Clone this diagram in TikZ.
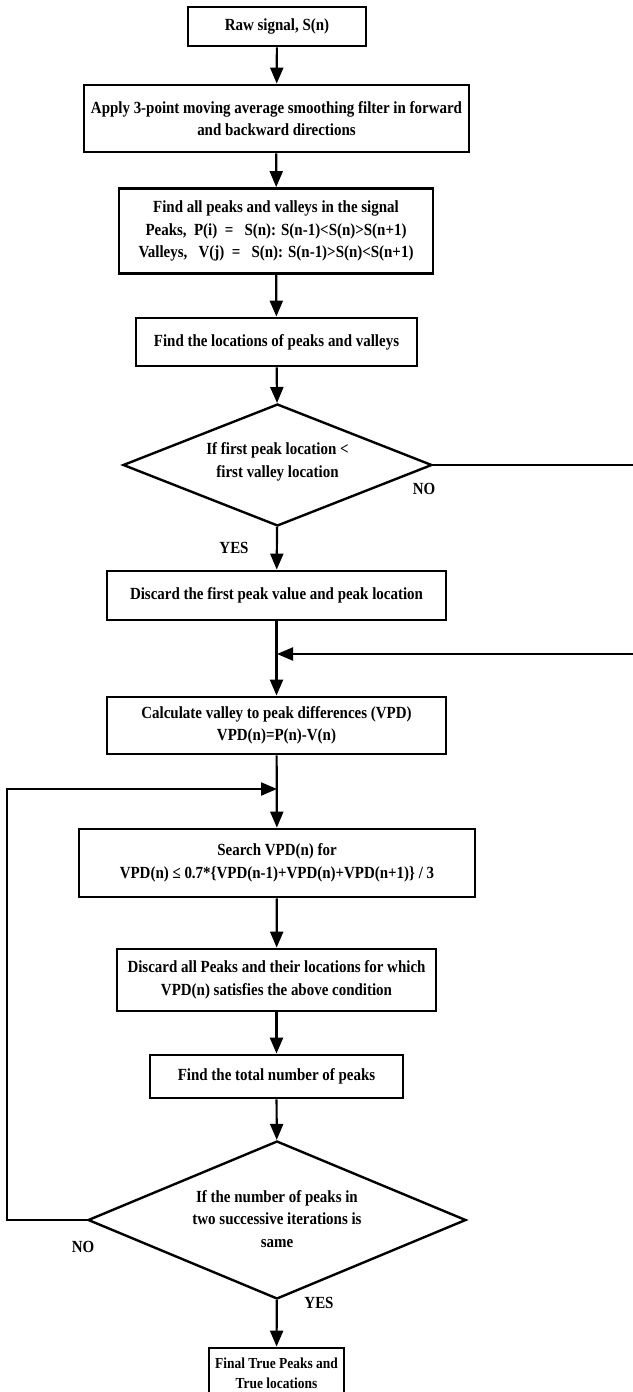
\documentclass[tikz,border=0pt]{standalone}
\usepackage{fontspec}
\setmainfont{Liberation Serif}[FakeStretch=0.88]
\usetikzlibrary{shapes.geometric,arrows.meta}
\begin{document}
\begin{tikzpicture}[x=1pt,y=-1pt,
  every node/.style={font=\fontsize{17}{22.5}\selectfont\bfseries, align=center, inner sep=0pt},
  box/.style={draw, line width=2.8pt, rectangle},
  dia/.style={draw, line width=2.4pt, diamond},
  lbl/.style={},
  arr/.style={line width=2.2pt, -{Triangle[length=16pt,width=13pt]}}]
\useasboundingbox (0,0) rectangle (632,1392);
\node[box, minimum width=178pt, minimum height=39pt] (b1) at (277,26.5) {Raw signal, S(n)};
\node[box, minimum width=385pt, minimum height=67pt] (b2) at (276.5,118.5) {Apply 3-point moving average smoothing filter in forward\\and backward directions};
\node[box, minimum width=314pt, minimum height=85pt] (b3) at (276,231) {\raisebox{0pt}{Find all peaks and valleys in the signal}\\Peaks,\ \ P(i)\ \ =\ \ \ S(n): S(n-1)<S(n)>S(n+1)\\Valleys,\ \ \ V(j)\ \ =\ \ \ S(n): S(n-1)>S(n)<S(n+1)};
\node[box, minimum width=281pt, minimum height=48pt] (b4) at (276.5,342) {Find the locations of peaks and valleys};
\node[dia, minimum width=309pt, minimum height=122pt, aspect=2.53] (d1) at (277.5,465) {};
\node at (277.5,462) {If first peak location <\\first valley location};
\node[lbl] (no1) at (424,489) {NO};
\node[lbl] (yes1) at (234,548) {YES};
\node[box, minimum width=339pt, minimum height=49pt] (b5) at (276.5,595.5) {Discard the first peak value and peak location};
\node[box, minimum width=339pt, minimum height=57pt] (b6) at (276.5,725.5) {Calculate valley to peak differences (VPD)\\VPD(n)=P(n)-V(n)};
\node[box, minimum width=396pt, minimum height=68pt] (b7) at (277,863) {Search VPD(n) for\\VPD(n) ≤ 0.7*\{VPD(n-1)+VPD(n)+VPD(n+1)\} / 3};
\node[box, minimum width=319pt, minimum height=62pt] (b8) at (276.5,980) {Discard all Peaks and their locations for which\\VPD(n) satisfies the above condition};
\node[box, minimum width=253pt, minimum height=43pt] (b9) at (276.5,1076.5) {Find the total number of peaks};
\node[dia, minimum width=378pt, minimum height=158pt, aspect=2.39] (d2) at (277,1220) {};
\node at (277,1219) {If the number of peaks in\\two successive iterations is\\same};
\node[lbl] (no2) at (83,1247) {NO};
\node[lbl] (yes2) at (319,1303) {YES};
\node[box, minimum width=135pt, minimum height=50pt, font=\fontsize{15.3}{20}\selectfont\bfseries] (b10) at (276.5,1373) {Final True Peaks and\\True locations};
\coordinate (m1) at (277,654);
\coordinate (r1) at (648,465);
\coordinate (r2) at (648,654);
\coordinate (m2) at (277,789);
\coordinate (l1) at (7,1220);
\coordinate (l2) at (7,789);
\draw[arr] (b1) -- (b2);
\draw[arr] (b2) -- (b3);
\draw[arr] (b3) -- (b4);
\draw[arr] (b4) -- (d1);
\draw[arr] (d1) -- (b5);
\draw[arr] (b5) -- (b6);
\draw[arr] (d1.east) -- (r1) -- (r2) -- (m1);
\draw[arr] (b6) -- (b7);
\draw[arr] (d2.west) -- (l1) -- (l2) -- (m2);
\draw[arr] (b7) -- (b8);
\draw[arr] (b8) -- (b9);
\draw[arr] (b9) -- (d2);
\draw[arr] (d2) -- (b10);
\end{tikzpicture}
\end{document}
